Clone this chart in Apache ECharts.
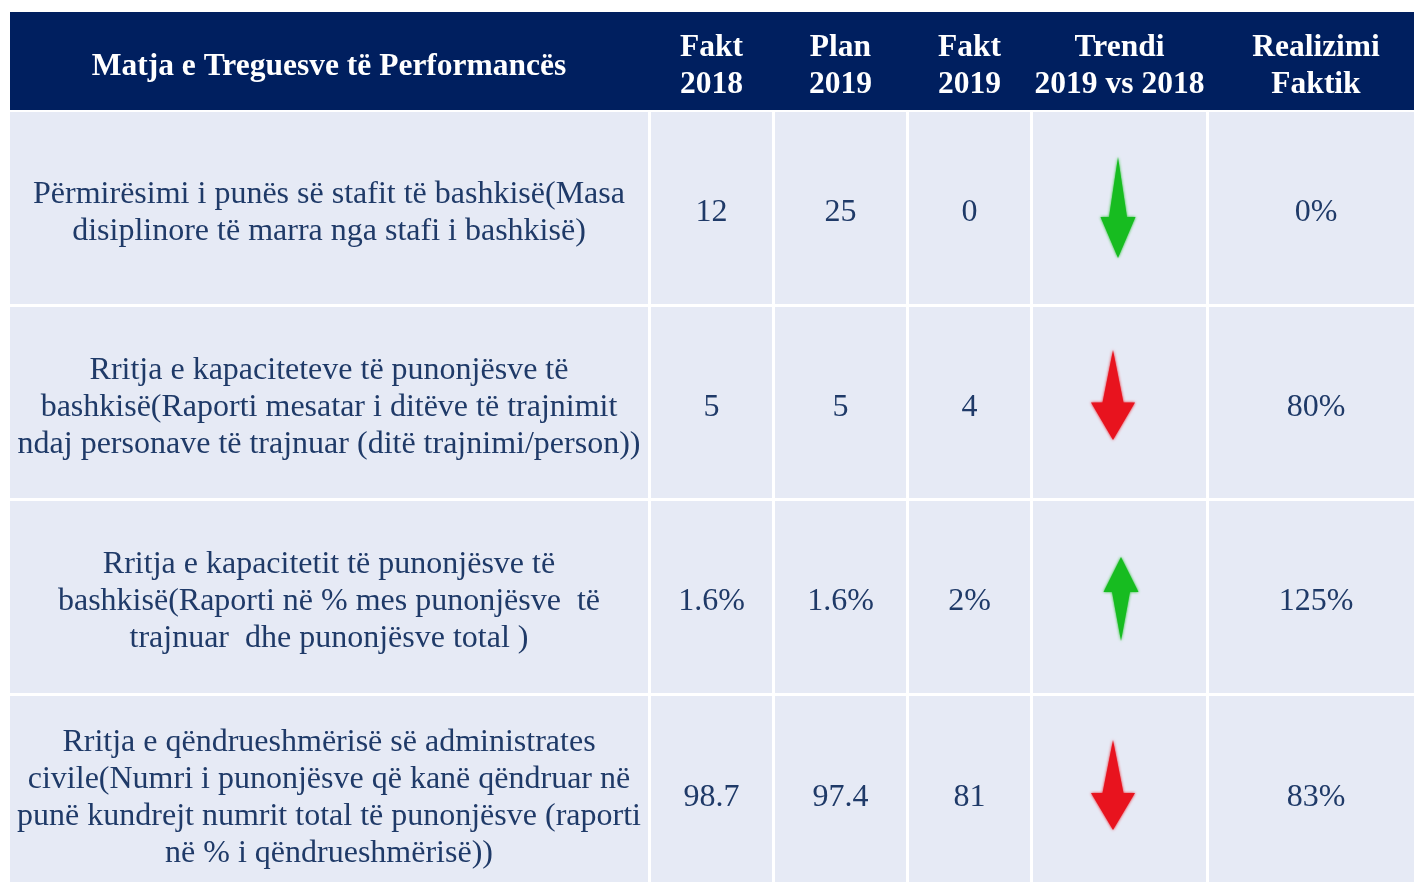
<!DOCTYPE html>
<html>
<head>
<meta charset="utf-8">
<script src="https://cdn.jsdelivr.net/npm/echarts@6/dist/echarts.min.js"></script>
<style>
html,body{margin:0;padding:0;background:#ffffff;}
#chart{width:1414px;height:882px;}
</style>
</head>
<body>
<div id="chart"></div>
<script>
// ---------- DATA ----------
const headers = ['Matja e Treguesve të Performancës', 'Fakt\n2018', 'Plan\n2019', 'Fakt\n2019', 'Trendi\n2019 vs 2018', 'Realizimi\nFaktik'];
const indicators = [
  'Përmirësimi i punës së stafit të bashkisë(Masa\ndisiplinore të marra nga stafi i bashkisë)',
  'Rritja e kapaciteteve të punonjësve të\nbashkisë(Raporti mesatar i ditëve të trajnimit\nndaj personave të trajnuar (ditë trajnimi/person))',
  'Rritja e kapacitetit të punonjësve të\nbashkisë(Raporti në % mes punonjësve  të\ntrajnuar  dhe punonjësve total )',
  'Rritja e qëndrueshmërisë së administrates\ncivile(Numri i punonjësve që kanë qëndruar në\npunë kundrejt numrit total të punonjësve (raporti\nnë % i qëndrueshmërisë))'
];
const fakt2018 = ['12', '5', '1.6%', '98.7'];
const plan2019 = ['25', '5', '1.6%', '97.4'];
const fakt2019 = ['0', '4', '2%', '81'];
const trendDirection = ['down', 'down', 'up', 'down'];
const trendFavourable = [true, false, true, false];
const realizimi = ['0%', '80%', '125%', '83%'];

// ---------- LAYOUT / STYLE ----------
const colEdges = [[10, 648], [651, 772], [775, 906], [909, 1030], [1033, 1206], [1209, 1423]];
const rowEdges = [[12, 110], [112, 304], [307, 498], [501, 693], [696, 890]];
const headerTextOffsetY = 5.5;
const bodyTextOffsetY = 5;
// arrow geometry relative to the cell: dx from cell centre, from/wing/to as dy from cell centre
const arrowShapes = [
  { dx: -1.5, from: -51, wing: 9, to: 50, head: 35, shaft: 18 },
  { dx: -6.5, from: -52.5, wing: 0, to: 37.5, head: 44, shaft: 21 },
  { dx: 1.5, from: 44, wing: -5, to: -40, head: 35, shaft: 18 },
  { dx: -6.5, from: -53, wing: 0, to: 37, head: 44, shaft: 21 }
];
const headerBg = '#001F5F';
const cellBg = '#E6EAF5';
const textColor = '#1F3A68';
const goodColor = '#17BC20';
const badColor = '#E8131E';
const fontFamily = '"Liberation Serif", "Times New Roman", serif';

// ---------- BUILD CELLS ----------
const bodyColumns = [indicators, fakt2018, plan2019, fakt2019, null, realizimi];
const cells = [];
headers.forEach((h, c) => cells.push([c, 0]));
indicators.forEach((_, r) => {
  for (let c = 0; c < headers.length; c++) cells.push([c, r + 1]);
});

function renderItem(params, api) {
  const c = api.value(0), r = api.value(1);
  const [x0, x1] = colEdges[c];
  const [y0, y1] = rowEdges[r];
  const p0 = api.coord([x0, y0]);
  const p1 = api.coord([x1, y1]);
  const cx = (p0[0] + p1[0]) / 2, cy = (p0[1] + p1[1]) / 2;
  const children = [];
  if (r === 0) {
    // header band is continuous: extend each header cell over the gap to the next column
    const nextX = c < colEdges.length - 1 ? api.coord([colEdges[c + 1][0], y0])[0] : p1[0];
    children.push({
      type: 'rect',
      shape: { x: p0[0], y: p0[1], width: nextX - p0[0] + 0.5, height: p1[1] - p0[1] },
      style: { fill: headerBg }
    });
    children.push({
      type: 'text',
      style: {
        text: headers[c], x: cx, y: cy + headerTextOffsetY, align: 'center', verticalAlign: 'middle',
        fill: '#ffffff', font: 'bold 31.5px ' + fontFamily, lineHeight: 37
      }
    });
  } else {
    children.push({
      type: 'rect',
      shape: { x: p0[0], y: p0[1], width: p1[0] - p0[0], height: p1[1] - p0[1] },
      style: { fill: cellBg }
    });
    if (c === 4) {
      const i = r - 1;
      const a = arrowShapes[i];
      const ax = cx + a.dx;
      const yFrom = cy + a.from, yWing = cy + a.wing, yTo = cy + a.to;
      const col = trendFavourable[i] ? goodColor : badColor;
      children.push({
        type: 'polygon',
        shape: {
          points: [
            [ax, yFrom], [ax + a.shaft / 2, yWing], [ax + a.head / 2, yWing], [ax, yTo],
            [ax - a.head / 2, yWing], [ax - a.shaft / 2, yWing]
          ]
        },
        style: { fill: col, shadowBlur: 3, shadowColor: col }
      });
    } else {
      const txt = bodyColumns[c][r - 1];
      children.push({
        type: 'text',
        style: {
          text: txt, x: cx, y: cy + bodyTextOffsetY, align: 'center', verticalAlign: 'middle',
          fill: textColor, font: '32px ' + fontFamily, lineHeight: 37
        }
      });
    }
  }
  return { type: 'group', children };
}

const chart = echarts.init(document.getElementById('chart'), null, { renderer: 'canvas' });
chart.setOption({
  backgroundColor: '#ffffff',
  animation: false,
  grid: { left: 0, right: 0, top: 0, bottom: 0 },
  xAxis: { type: 'value', min: 0, max: 1414, show: false },
  yAxis: { type: 'value', min: 0, max: 882, inverse: true, show: false },
  series: [{
    type: 'custom',
    renderItem,
    clip: true,
    data: cells,
    encode: { x: 0, y: 1 },
    silent: true
  }]
});
</script>
</body>
</html>
